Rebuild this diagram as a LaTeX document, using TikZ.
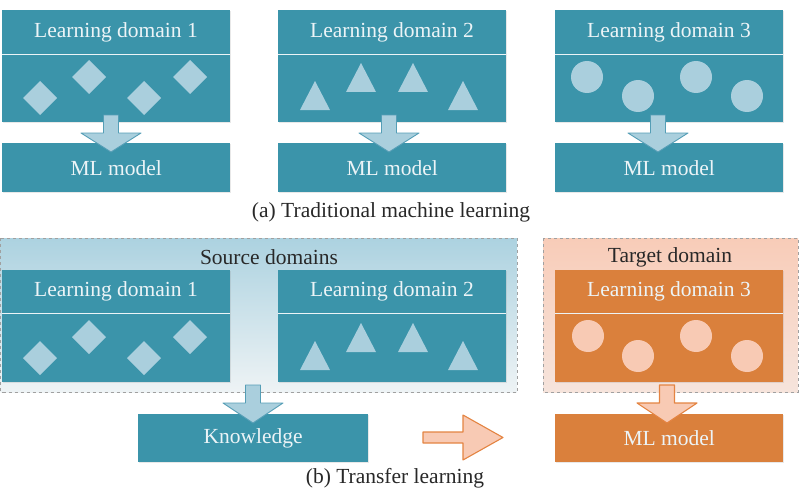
\documentclass[tikz,border=0pt]{standalone}
\usepackage{fontspec}
\setmainfont{Liberation Serif}
\usetikzlibrary{calc,shadows}
\definecolor{tealbox}{RGB}{59,148,170}
\definecolor{lightshape}{RGB}{170,207,221}
\definecolor{tealedge}{RGB}{85,158,182}
\definecolor{orangebox}{RGB}{218,128,60}
\definecolor{lightorange}{RGB}{248,202,180}
\definecolor{orangeedge}{RGB}{228,132,66}
\definecolor{boxtext}{RGB}{236,244,247}
\definecolor{captext}{RGB}{40,40,40}
\definecolor{srctop}{RGB}{172,210,224}
\definecolor{srcbot}{RGB}{238,243,245}
\definecolor{tgttop}{RGB}{248,204,184}
\definecolor{tgtbot}{RGB}{246,228,220}
\definecolor{regionedge}{RGB}{160,160,160}
\newcommand\myDia[2]{\fill[lightshape] (#1-17,#2) -- (#1,#2-17) -- (#1+17,#2) -- (#1,#2+17) -- cycle;}
\newcommand\myTri[2]{\fill[lightshape] (#1-15,#2) -- (#1,#2-29) -- (#1+15,#2) -- cycle;}
\newcommand\myCirc[3]{\fill[#3] (#1,#2) circle[radius=16];}
% x center, shaft top, head base, tip, style
\newcommand\myDownArrow[5]{\draw[#5] (#1-7.5,#2) -- (#1+7.5,#2) -- (#1+7.5,#3) -- (#1+30,#3) -- (#1,#4) -- (#1-30,#3) -- (#1-7.5,#3) -- cycle;}
\begin{document}
\begin{tikzpicture}[x=1pt,y=-1pt,
  every node/.style={font=\fontsize{21.5}{25}\selectfont},
  dombox/.style={rectangle, anchor=north west, inner sep=0pt, minimum width=228pt, minimum height=112pt,
     fill=tealbox, drop shadow={opacity=0.18, shadow xshift=1.2pt, shadow yshift=-1.2pt}},
  modelbox/.style={dombox, minimum height=49pt},
  boxlabel/.style={text=boxtext, inner sep=0pt},
  caption/.style={text=captext, inner sep=0pt},
  divider/.style={draw=boxtext, line width=0.8pt},
  bluearrow/.style={fill=lightshape, draw=tealedge, line width=0.9pt, line join=round},
  orangearrow/.style={fill=lightorange, draw=orangeedge, line width=1.1pt, line join=round},
  region/.style={draw=regionedge, dashed, line width=0.6pt}
]
\useasboundingbox (0,0) rectangle (801,495);

% ---------- (a) Traditional machine learning ----------
\node[dombox] (a1) at (2,10) {};
\node[dombox] (a2) at (278,10) {};
\node[dombox] (a3) at (555,10) {};
\foreach \n in {a1,a2,a3} {
  \draw[divider] (\n.west |- 0,54) -- (\n.east |- 0,54);
}
\node[boxlabel] (a1t) at (116,32) {Learning domain 1};
\node[boxlabel] (a2t) at (392,32) {Learning domain 2};
\node[boxlabel] (a3t) at (669,32) {Learning domain 3};

\myDia{40}{98}\myDia{89}{77}\myDia{144}{98}\myDia{190}{77}
\myTri{315}{110}\myTri{361}{92}\myTri{413}{92}\myTri{463}{110}
\myCirc{587}{77}{lightshape}\myCirc{638}{96}{lightshape}\myCirc{696}{77}{lightshape}\myCirc{747}{96}{lightshape}

\node[modelbox] (m1) at (2,143) {};
\node[modelbox] (m2) at (278,143) {};
\node[modelbox] (m3) at (555,143) {};
\node[boxlabel] (m1t) at (m1.center) {ML model};
\node[boxlabel] (m2t) at (m2.center) {ML model};
\node[boxlabel] (m3t) at (m3.center) {ML model};

\myDownArrow{111}{115}{133}{152}{bluearrow}
\myDownArrow{389}{115}{133}{152}{bluearrow}
\myDownArrow{658}{115}{133}{152}{bluearrow}

\node[caption] (capa) at (391,212) {(a) Traditional machine learning};

% ---------- (b) Transfer learning ----------
\shade[top color=srctop, bottom color=srcbot] (0.5,238) rectangle (517,392);
\draw[region] (0.5,238) rectangle (517,392);
\node (src) at (259,315) [minimum width=516pt, minimum height=154pt, inner sep=0pt] {};
\shade[top color=tgttop, bottom color=tgtbot] (543,238) rectangle (798,392);
\draw[region] (543,238) rectangle (798,392);
\node (tgt) at (670.5,315) [minimum width=255pt, minimum height=154pt, inner sep=0pt] {};
\node[caption] (srct) at (269,257) {Source domains};
\node[caption] (tgtt) at (670,257) {Target domain};

\node[dombox] (b1) at (2,270) {};
\node[dombox] (b2) at (278,270) {};
\node[dombox, fill=orangebox] (b3) at (555,270) {};
\foreach \n in {b1,b2,b3} {
  \draw[divider] (\n.west |- 0,313) -- (\n.east |- 0,313);
}
\node[boxlabel] (b1t) at (116,291.5) {Learning domain 1};
\node[boxlabel] (b2t) at (392,291.5) {Learning domain 2};
\node[boxlabel] (b3t) at (669,291.5) {Learning domain 3};

\myDia{40}{358}\myDia{89}{337}\myDia{144}{358}\myDia{190}{337}
\myTri{315}{370}\myTri{361}{352}\myTri{413}{352}\myTri{463}{370}
\myCirc{588}{336}{lightorange}\myCirc{638}{356}{lightorange}\myCirc{696}{336}{lightorange}\myCirc{747}{356}{lightorange}

\node[modelbox, minimum width=230pt, minimum height=48pt] (kn) at (138,414) {};
\node[boxlabel] (knt) at (kn.center) {Knowledge};
\node[modelbox, minimum height=48pt, fill=orangebox] (m4) at (555,414) {};
\node[boxlabel] (m4t) at (m4.center) {ML model};

\myDownArrow{253}{385}{403}{423}{bluearrow}
\myDownArrow{667}{385}{403}{423}{orangearrow}

% transfer arrow
\draw[orangearrow] (423,432) -- (463,432) -- (463,415) -- (503,437.5) -- (463,460) -- (463,443) -- (423,443) -- cycle;

\node[caption] (capb) at (395,478) {(b) Transfer learning};
\end{tikzpicture}
\end{document}
